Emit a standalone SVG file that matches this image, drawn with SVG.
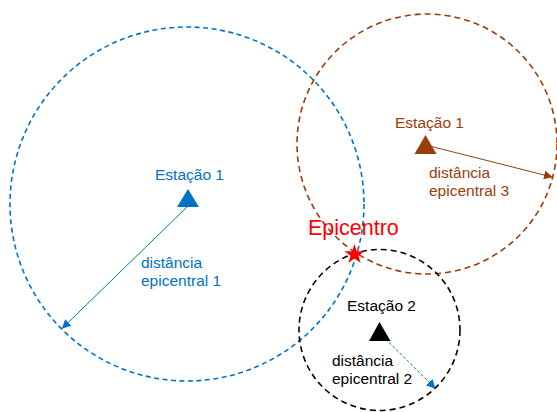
<svg xmlns="http://www.w3.org/2000/svg" width="557" height="412" viewBox="0 0 557 412">
<style>
text{font-family:"Liberation Sans",Arial,sans-serif}
.lbl{font-size:15.5px}
.blue{fill:#0072c6}
.brown{fill:#9a3d0c}
.blk{fill:#000}
.ring{fill:none;stroke-width:1.6}
</style>
<defs>
<marker id="ahB" viewBox="0 0 10 10" refX="9" refY="5" markerWidth="9" markerHeight="9" markerUnits="userSpaceOnUse" orient="auto"><path d="M0,0 L10,5 L0,10 z" fill="#0072c6"/></marker>
<marker id="ahR" viewBox="0 0 10 10" refX="9" refY="5" markerWidth="9" markerHeight="9" markerUnits="userSpaceOnUse" orient="auto"><path d="M0,0 L10,5 L0,10 z" fill="#9a3d0c"/></marker>
</defs>
<g id="connectors">
<circle class="ring" cx="187" cy="204" r="177" stroke="#0072c6" stroke-dasharray="5 3.5"/>
<circle class="ring" cx="427" cy="144" r="130" stroke="#9a3d0c" stroke-dasharray="6 4"/>
<circle class="ring" cx="379.5" cy="330" r="80.5" stroke="#000" stroke-dasharray="6 4"/>
<line x1="187" y1="207" x2="62.5" y2="328" stroke="#0072c6" stroke-width="1" marker-end="url(#ahB)"/>
<line x1="431.5" y1="146.5" x2="552" y2="177" stroke="#9a3d0c" stroke-width="1" marker-end="url(#ahR)"/>
<line x1="385.5" y1="339" x2="435" y2="388" stroke="#0072c6" stroke-width="1" stroke-dasharray="3 2" marker-end="url(#ahB)"/>
</g>
<g id="station1">
<polygon points="188,189 177,207 199,207" fill="#0072c6"/>
<text class="lbl blue" x="155" y="180">Estação 1</text>
<text class="lbl blue" x="141" y="268">distância<tspan x="141" dy="17.5">epicentral 1</tspan></text>
</g>
<g id="station3">
<polygon points="425.5,135 414.5,154 436.5,154" fill="#9a3d0c"/>
<text class="lbl brown" x="395" y="128">Estação 1</text>
<text class="lbl brown" x="429" y="178">distância<tspan x="429" dy="17.5">epicentral 3</tspan></text>
</g>
<g id="station2">
<polygon points="379.5,322 369,341 390.5,341" fill="#000"/>
<text class="lbl blk" x="347" y="311">Estação 2</text>
<text class="lbl blk" x="332" y="366">distância<tspan x="332" dy="17.5">epicentral 2</tspan></text>
</g>
<g id="epicentro">
<polygon points="354.5,244 356.9,251.2 364.5,251.2 358.4,255.7 360.7,263 354.5,258.5 348.3,263 350.6,255.7 344.5,251.2 352.1,251.2" fill="#ff0000"/>
<text x="308" y="235" font-size="21.5" fill="#ff0000">Epicentro</text>
</g>
</svg>
